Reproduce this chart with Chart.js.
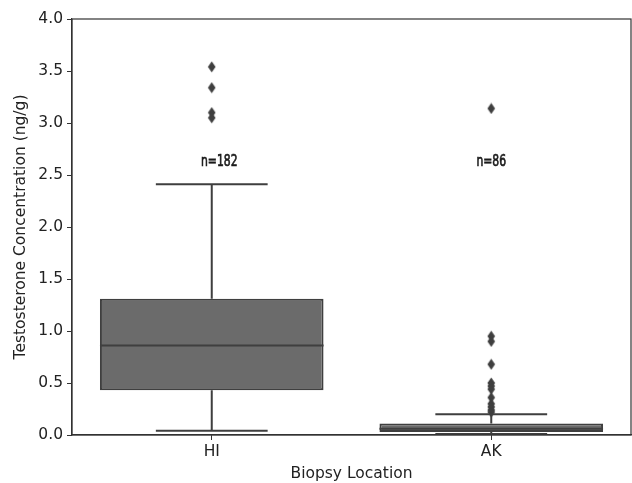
<!DOCTYPE html>
<html>
<head>
<meta charset="utf-8">
<script src="https://cdn.jsdelivr.net/npm/chart.js@4.4.1/dist/chart.umd.min.js"></script>
<style>
html,body{margin:0;padding:0;background:#fff;}
#wrap{width:632px;height:483px;}
</style>
</head>
<body>
<div id="wrap"><canvas id="c" width="632" height="483"></canvas></div>
<script>
// ---- data ----
const categories = ['HI', 'AK'];
const q1 = [0.43, 0.03];
const median = [0.86, 0.06];
const q3 = [1.31, 0.11];
const whiskerLow = [0.04, 0.01];
const whiskerHigh = [2.41, 0.20];
const outliersHI = [3.54, 3.34, 3.10, 3.05];
const outliersAK = [3.14, 0.95, 0.90, 0.68, 0.50, 0.47, 0.44, 0.36, 0.30, 0.27, 0.24, 0.22];
const countLabels = ['n=182', 'n=86'];
const countLabelY = [2.62, 2.62];
const yTicks = [0.0, 0.5, 1.0, 1.5, 2.0, 2.5, 3.0, 3.5, 4.0];

const EDGE = '#3f3f3f';
const FILL = '#6b6b6b';
const FONT = 15.5;

// thin diamond marker
const marker = document.createElement('canvas');
marker.width = 9; marker.height = 12;
(function(){
  const g = marker.getContext('2d');
  g.fillStyle = EDGE;
  g.beginPath();
  g.moveTo(4.5, 0.5); g.lineTo(8.3, 6); g.lineTo(4.5, 11.5); g.lineTo(0.7, 6);
  g.closePath(); g.fill();
})();

const boxPlugin = {
  id: 'boxExtras',
  afterDatasetsDraw(chart) {
    const ctx = chart.ctx, x = chart.scales.x, y = chart.scales.y;
    const meta = chart.getDatasetMeta(0);
    ctx.save();
    ctx.strokeStyle = EDGE;
    ctx.lineWidth = 2;
    categories.forEach((c, i) => {
      const cx = x.getPixelForValue(i);
      const bar = meta.data[i];
      const half = bar.width / 2;
      const capHalf = half / 2;
      ctx.beginPath();
      ctx.moveTo(cx - half, y.getPixelForValue(median[i]));
      ctx.lineTo(cx + half, y.getPixelForValue(median[i]));
      ctx.stroke();
      ctx.beginPath();
      ctx.moveTo(cx, y.getPixelForValue(q3[i]));
      ctx.lineTo(cx, y.getPixelForValue(whiskerHigh[i]));
      ctx.moveTo(cx, y.getPixelForValue(q1[i]));
      ctx.lineTo(cx, y.getPixelForValue(whiskerLow[i]));
      ctx.stroke();
      ctx.beginPath();
      ctx.moveTo(cx - capHalf, y.getPixelForValue(whiskerHigh[i]));
      ctx.lineTo(cx + capHalf, y.getPixelForValue(whiskerHigh[i]));
      ctx.moveTo(cx - capHalf, y.getPixelForValue(whiskerLow[i]));
      ctx.lineTo(cx + capHalf, y.getPixelForValue(whiskerLow[i]));
      ctx.stroke();
      // n labels (condensed, medium weight)
      ctx.save();
      ctx.fillStyle = '#1a1a1a';
      ctx.strokeStyle = '#1a1a1a';
      ctx.lineWidth = 0.7;
      ctx.font = '15px "DejaVu Sans"';
      ctx.textAlign = 'center';
      ctx.textBaseline = 'middle';
      ctx.translate(cx + (i === 0 ? 7.5 : 0), y.getPixelForValue(countLabelY[i]));
      ctx.scale(0.72, 1);
      ctx.fillText(countLabels[i], 0, 0);
      ctx.strokeText(countLabels[i], 0, 0);
      ctx.restore();
    });
    ctx.restore();
  },
  afterDraw(chart) {
    const ctx = chart.ctx, a = chart.chartArea;
    ctx.save();
    ctx.strokeStyle = '#333';
    ctx.lineWidth = 1.2;
    ctx.strokeRect(a.left, a.top, a.right - a.left, a.bottom - a.top);
    ctx.restore();
  }
};

const outlierData = [];
outliersHI.forEach(v => outlierData.push({x: categories[0], y: v}));
outliersAK.forEach(v => outlierData.push({x: categories[1], y: v}));

new Chart(document.getElementById('c'), {
  type: 'bar',
  data: {
    labels: categories,
    datasets: [
      {
        label: 'box',
        data: categories.map((c, i) => [q1[i], q3[i]]),
        backgroundColor: FILL,
        borderColor: EDGE,
        borderWidth: 2,
        borderSkipped: false,
        barPercentage: 0.8,
        categoryPercentage: 1.0
      },
      {
        type: 'line',
        label: 'outliers',
        data: outlierData,
        showLine: false,
        pointStyle: marker,
        pointRadius: 5,
        pointHoverRadius: 5
      }
    ]
  },
  options: {
    responsive: false,
    animation: false,
    events: [],
    layout: { autoPadding: false, padding: { top: 19, right: 1, left: 0, bottom: 0 } },
    plugins: { legend: { display: false }, tooltip: { enabled: false } },
    scales: {
      x: {
        grid: { display: true, drawOnChartArea: false, drawTicks: true, tickLength: 5, color: '#333', offset: false },
        border: { display: true, color: '#333', width: 1.2 },
        ticks: { color: '#222', font: { family: 'DejaVu Sans', size: FONT }, padding: 3 },
        title: { display: true, text: 'Biopsy Location', color: '#222', font: { family: 'DejaVu Sans', size: FONT }, padding: { top: 3, bottom: 0 } },
        afterFit(s) { s.height = 48; s.paddingLeft = 0; s.paddingRight = 0; }
      },
      y: {
        min: 0, max: 4,
        afterBuildTicks(s) { s.ticks = yTicks.map(v => ({ value: v })); },
        grid: { display: true, drawOnChartArea: false, drawTicks: true, tickLength: 5, color: '#333' },
        border: { display: true, color: '#333', width: 1.2 },
        ticks: { color: '#222', font: { family: 'DejaVu Sans', size: FONT }, padding: 4, callback: v => Number(v).toFixed(1) },
        title: { display: true, text: 'Testosterone Concentration (ng/g)', color: '#222', font: { family: 'DejaVu Sans', size: FONT }, padding: { top: 12, bottom: 2 } },
        afterFit(s) { s.width = 72; s.paddingTop = 0; s.paddingBottom = 0; }
      }
    }
  },
  plugins: [boxPlugin]
});
</script>
</body>
</html>
